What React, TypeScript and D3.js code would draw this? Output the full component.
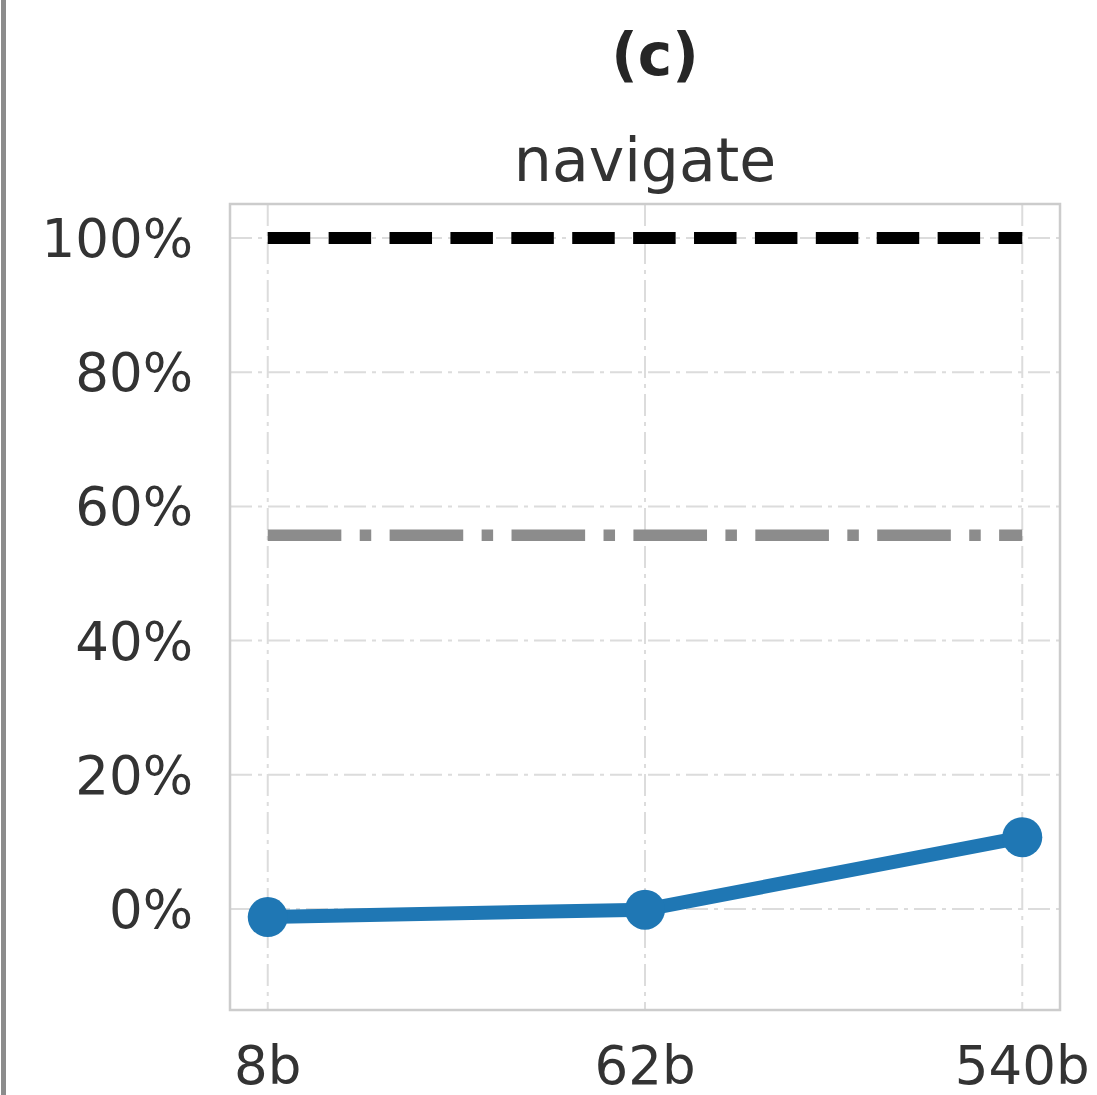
import React from "react";
import * as d3 from "d3";

const categories = ["8b", "62b", "540b"];
const seriesValues = [-1.2, -0.1, 10.7];
const upperRef = 100;
const baselineRef = 55.7;
const yTicks = [0, 20, 40, 60, 80, 100];
const title = "(c)";
const subtitle = "navigate";

export default function App() {
  const W = 1097, H = 1095;
  const left = 230, right = 1060, top = 204, bottom = 1010;
  const x = d3.scalePoint<string>().domain(categories).range([left, right]).padding(0.1);
  const y = d3.scaleLinear().domain([-15.05, 105.07]).range([bottom, top]);
  const line = d3.line<number>().x((_, i) => x(categories[i])!).y((d) => y(d));
  const x0 = x(categories[0])!;
  const x1 = x(categories[categories.length - 1])!;
  const font = "'DejaVu Sans', sans-serif";
  const gridDash = "22,6,4,6";
  return (
    <svg width={W} height={H} style={{ position: "absolute", left: 0, top: 0, background: "#fff" }} fontFamily={font}>
      <rect x={0} y={0} width={W} height={H} fill="#fff" />
      <rect x={1} y={0} width={5} height={H} fill="#8c8c8c" />
      <text x={655} y={75} textAnchor="middle" fontSize={58} fontWeight="bold" fill="#262626">{title}</text>
      <text x={645} y={181} textAnchor="middle" fontSize={60} fill="#333333">{subtitle}</text>
      {/* grid */}
      {yTicks.map((t) => (
        <line key={"gy" + t} x1={left} x2={right} y1={y(t)} y2={y(t)} stroke="#dcdcdc" strokeWidth={2} strokeDasharray={gridDash} />
      ))}
      {categories.map((c) => (
        <line key={"gx" + c} x1={x(c)} x2={x(c)} y1={top} y2={bottom} stroke="#dcdcdc" strokeWidth={2} strokeDasharray={gridDash} />
      ))}
      {/* frame */}
      <rect x={left} y={top} width={right - left} height={bottom - top} fill="none" stroke="#cccccc" strokeWidth={2.5} />
      {/* tick labels */}
      {yTicks.map((t) => (
        <text key={"ty" + t} x={193} y={y(t)} dy="0.36em" textAnchor="end" fontSize={53} fill="#333333">{t + "%"}</text>
      ))}
      {categories.map((c) => (
        <text key={"tx" + c} x={x(c)} y={1084} textAnchor="middle" fontSize={53} fill="#333333">{c}</text>
      ))}
      {/* reference lines */}
      <line x1={x0} x2={x1} y1={y(upperRef)} y2={y(upperRef)} stroke="#000" strokeWidth={12} strokeDasharray="42.5,18.4" />
      <line x1={x0} x2={x1} y1={y(baselineRef)} y2={y(baselineRef)} stroke="#8c8c8c" strokeWidth={11.5} strokeDasharray="73.6,18.4,11.5,18.4" />
      {/* series */}
      <path d={line(seriesValues) ?? ""} fill="none" stroke="#1f77b4" strokeWidth={14} strokeLinejoin="round" />
      {seriesValues.map((v, i) => (
        <circle key={"m" + i} cx={x(categories[i])} cy={y(v)} r={20} fill="#1f77b4" />
      ))}
    </svg>
  );
}
